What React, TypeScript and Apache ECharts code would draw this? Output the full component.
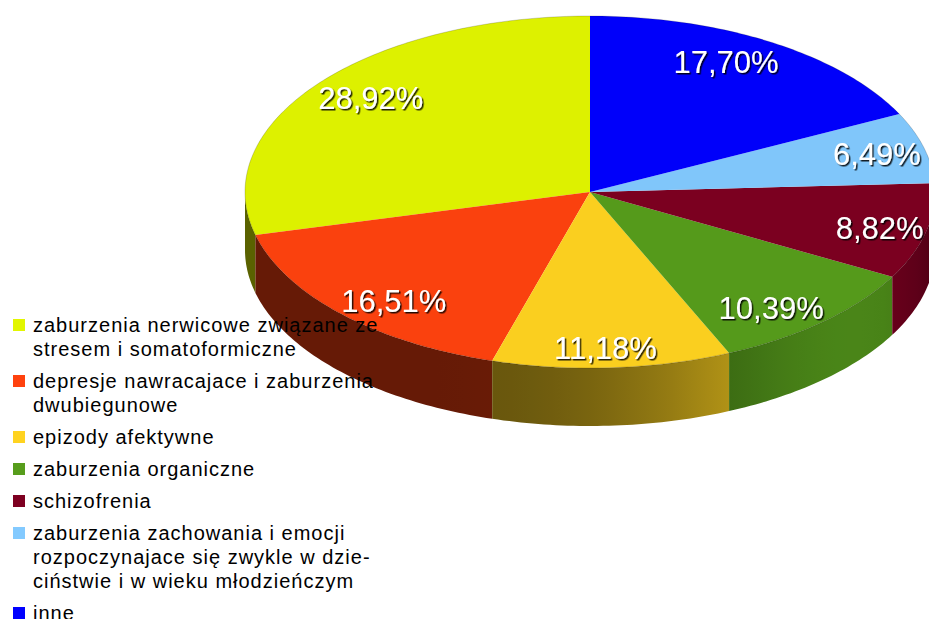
import React, { useEffect, useRef } from 'react';
import * as echarts from 'echarts';

const categories: string[] = [
  'zaburzenia nerwicowe związane ze\nstresem i somatoformiczne',
  'depresje nawracajace i zaburzenia\ndwubiegunowe',
  'epizody afektywne',
  'zaburzenia organiczne',
  'schizofrenia',
  'zaburzenia zachowania i emocji\nrozpoczynajace się zwykle w dzie-\nciństwie i w wieku młodzieńczym',
  'inne',
];
const values: number[] = [28.92, 16.51, 11.18, 10.39, 8.82, 6.49, 17.7];
const colors: string[] = ['#e2f600', '#ff420e', '#ffd320', '#579d1c', '#7e0021', '#83caff', '#0000ff'];

function scaleColor(hex: string, f: number): string {
  const n = parseInt(hex.slice(1), 16);
  const r = Math.round(Math.min(255, ((n >> 16) & 255) * f));
  const g = Math.round(Math.min(255, ((n >> 8) & 255) * f));
  const b = Math.round(Math.min(255, (n & 255) * f));
  return `rgb(${r},${g},${b})`;
}

export default function App() {
  const ref = useRef<HTMLDivElement>(null);
  useEffect(() => {
    const chart = echarts.init(ref.current!, null, { renderer: 'svg' });
    const CX = 590, CY = 192, RX = 345, RY = 176, DEPTH = 58;
    const total = values.reduce((a, b) => a + b, 0);
    const starts: number[] = [];
    let acc = 0;
    values.forEach((v) => { starts.push(acc); acc += v; });
    // angles measured clockwise from 12 o'clock; slices go counter-clockwise
    const range = (i: number): [number, number] => [
      360 - ((starts[i] + values[i]) / total) * 360,
      360 - (starts[i] / total) * 360,
    ];
    const pt = (deg: number, dy = 0): number[] => {
      const r = (deg * Math.PI) / 180;
      return [CX + RX * Math.sin(r), CY - RY * Math.cos(r) + dy];
    };
    const arc = (from: number, to: number, dy = 0): number[][] => {
      const n = Math.max(2, Math.ceil(Math.abs(to - from)));
      const pts: number[][] = [];
      for (let k = 0; k <= n; k++) pts.push(pt(from + ((to - from) * k) / n, dy));
      return pts;
    };
    const shade = (deg: number) =>
      0.4 + 0.45 * Math.pow(Math.max(0, Math.cos(((deg - 130) * Math.PI) / 180)), 4);
    const fmt = (v: number) => v.toFixed(2).replace('.', ',') + '%';

    const renderSlice = (params: any) => {
      const i = params.dataIndex;
      const [a0, a1] = range(i);
      const children: any[] = [];
      const lo = Math.max(a0, 90), hi = Math.min(a1, 270);
      if (hi > lo) {
        const pts = [...arc(lo, hi), ...arc(hi, lo, DEPTH)];
        const xa = pt(lo)[0], xb = pt(hi)[0];
        const xmin = Math.min(xa, xb), xmax = Math.max(xa, xb);
        const stops: any[] = [];
        const n = 12;
        for (let k = 0; k <= n; k++) {
          const d = lo + ((hi - lo) * k) / n;
          const x = pt(d)[0];
          stops.push({ offset: (x - xmin) / (xmax - xmin || 1), color: scaleColor(colors[i], shade(d)) });
        }
        stops.sort((p, q) => p.offset - q.offset);
        children.push({
          type: 'polygon',
          shape: { points: pts },
          style: { fill: new echarts.graphic.LinearGradient(xmin, 0, xmax, 0, stops, true) },
        });
      }
      children.push({
        type: 'polygon',
        shape: { points: [[CX, CY], ...arc(a0, a1)] },
        style: { fill: scaleColor(colors[i], 0.98) },
      });
      children.push({
        type: 'polyline',
        shape: { points: arc(a0, a1) },
        style: { stroke: 'rgba(0,0,0,0.22)', lineWidth: 0.8, fill: 'none' },
      });
      return { type: 'group', children };
    };

    const renderLabel = (params: any) => {
      const i = params.dataIndex;
      const [a0, a1] = range(i);
      const m = (((a0 + a1) / 2) * Math.PI) / 180;
      const s = Math.sin(m);
      const kx = 0.7 + 0.17 * s * s;
      const x = CX + kx * RX * s;
      const y = CY - 0.88 * RY * Math.cos(m) + 2;
      return {
        type: 'text',
        x,
        y,
        style: {
          text: fmt(values[i]),
          fill: '#ffffff',
          fontSize: 31,
          fontFamily: '"Liberation Sans", Arial, sans-serif',
          align: 'center',
          verticalAlign: 'middle',
          textAlign: 'center',
          textVerticalAlign: 'middle',
          textShadowColor: 'rgba(0,0,0,0.85)',
          textShadowOffsetX: 1.5,
          textShadowOffsetY: 1.5,
          textShadowBlur: 1,
        },
      };
    };

    const LINE_H = 24, GAP = 8;
    const elements: any[] = [];
    let y = 325;
    categories.forEach((c, i) => {
      elements.push({
        type: 'rect',
        z: 100,
        shape: { x: 13, y: y - 6, width: 12, height: 12 },
        style: { fill: colors[i] },
      });
      elements.push({
        type: 'text',
        z: 100,
        x: 33,
        y: y - LINE_H / 2,
        style: {
          text: c,
          fill: '#000000',
          fontSize: 20,
          lineHeight: LINE_H,
          fontFamily: '"Liberation Sans", Arial, sans-serif',
          align: 'left',
          verticalAlign: 'top',
          textAlign: 'left',
          textVerticalAlign: 'top',
        },
      });
      y += c.split('\n').length * LINE_H + GAP;
    });

    chart.setOption({
      animation: false,
      series: [
        {
          type: 'custom',
          coordinateSystem: 'none',
          silent: true,
          z: 2,
          data: values.map((v) => [v]),
          renderItem: renderSlice,
        },
        {
          type: 'custom',
          coordinateSystem: 'none',
          silent: true,
          z: 5,
          data: values.map((v) => [v]),
          renderItem: renderLabel,
        },
      ],
      graphic: { elements },
    });
    return () => chart.dispose();
  }, []);
  return (
    <>
      <style>{`.pie3d text[style*="20px"] { letter-spacing: 1px; }`}</style>
      <div
        ref={ref}
        className="pie3d"
        style={{ position: 'absolute', left: 0, top: 0, width: 929, height: 619, background: '#ffffff' }}
      />
    </>
  );
}
